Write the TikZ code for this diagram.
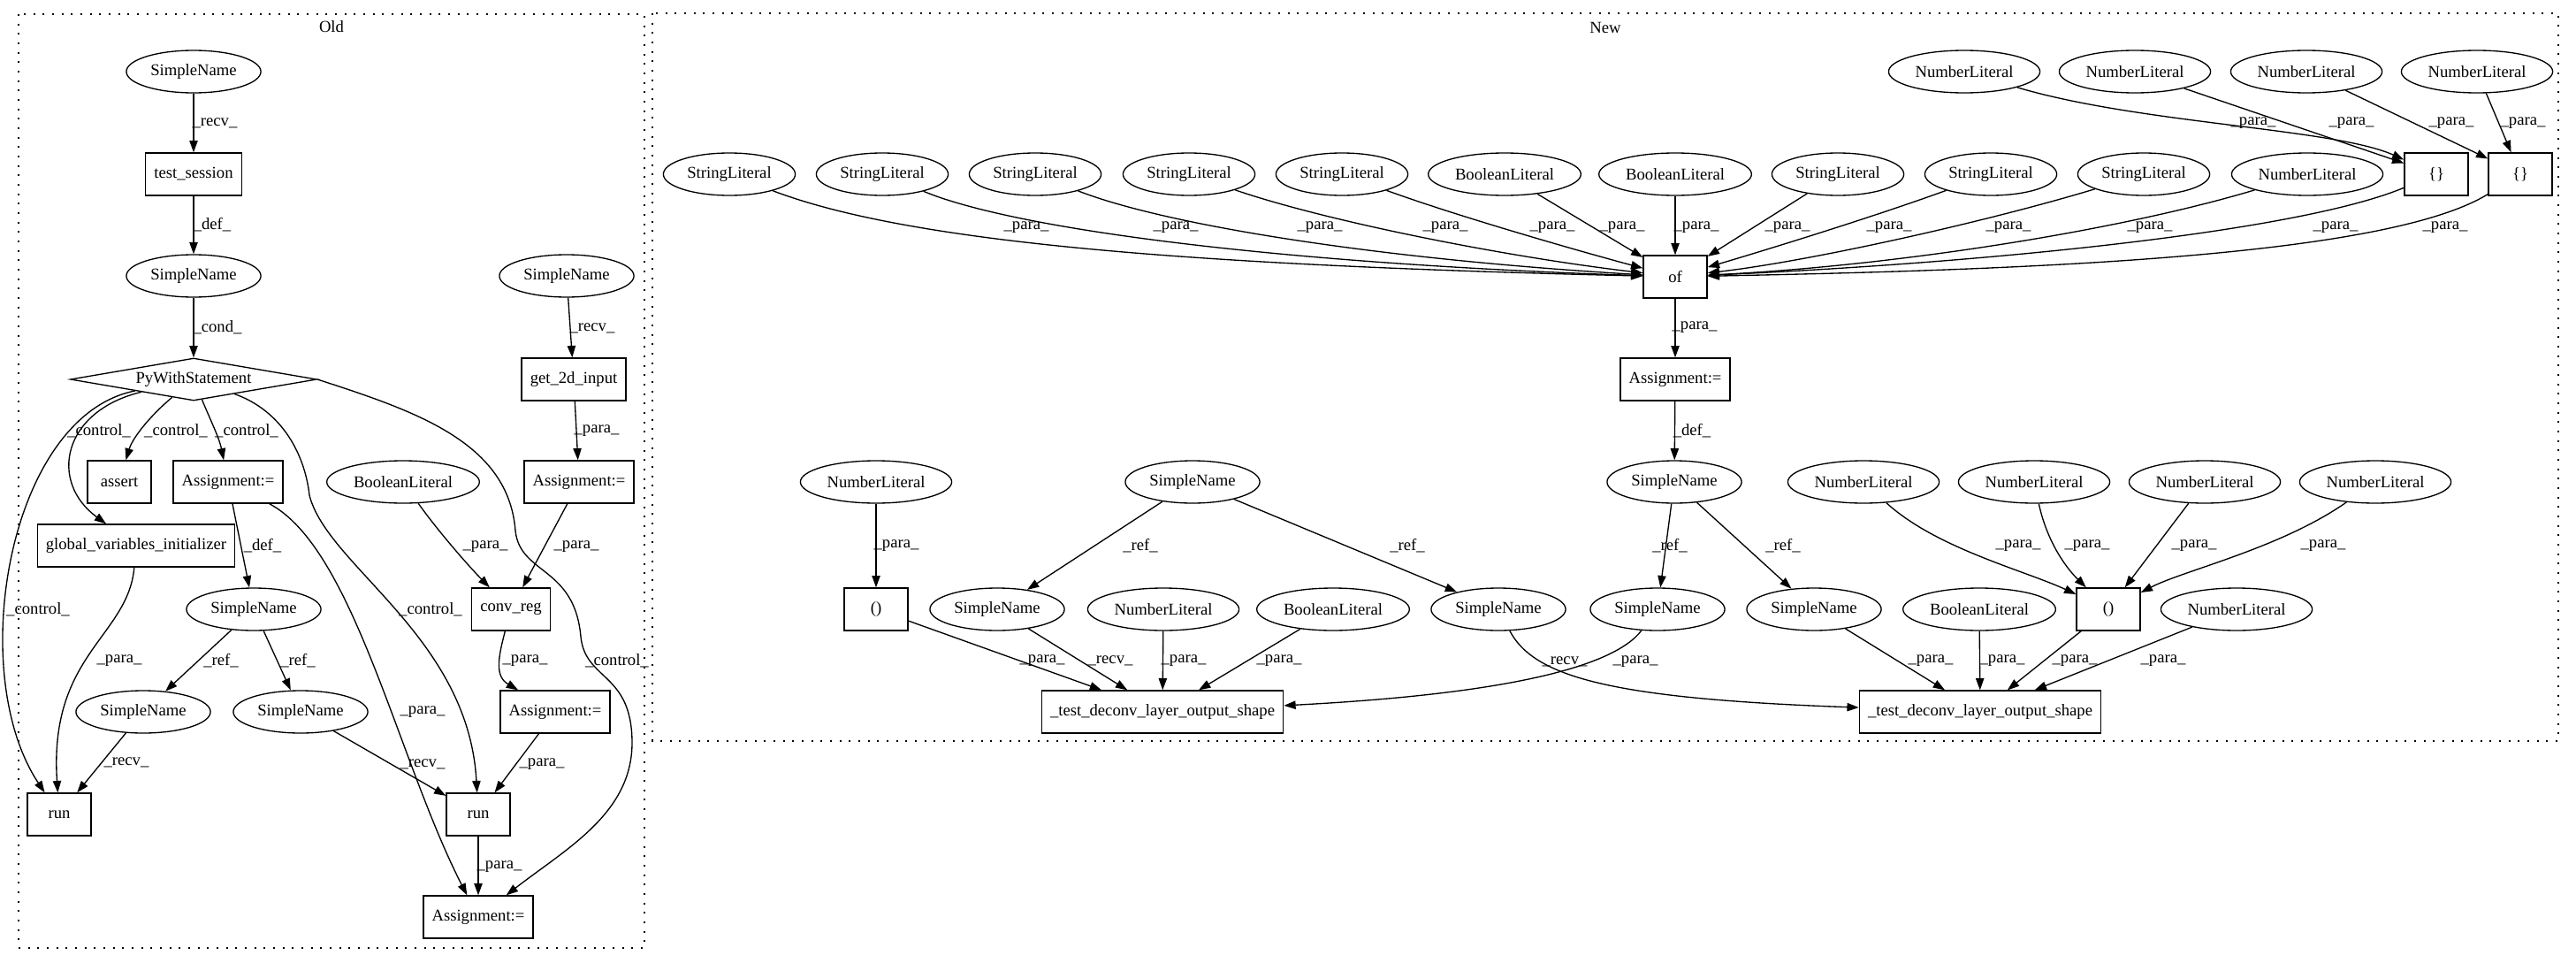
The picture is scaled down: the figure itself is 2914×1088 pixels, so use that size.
\documentclass[tikz,border=0pt]{standalone}
\usepackage{fontspec}
\setmainfont{Liberation Serif}
\usetikzlibrary{arrows.meta,shapes.geometric}

\begin{document}
\begin{tikzpicture}[
  x=0.75pt, y=-0.75pt,
  font=\fontsize{14}{16}\selectfont, >={Triangle[length=10pt,width=7pt]},
  leaf/.style={draw,ellipse,line width=1pt,inner xsep=3.8pt,inner ysep=0pt,minimum height=36pt},
  op/.style={draw,rectangle,line width=1pt,inner xsep=7.2pt,minimum width=54pt,minimum height=36pt},
  cond/.style={draw,diamond,line width=1pt,inner sep=0pt,aspect=5.8,minimum width=209pt,minimum height=36pt},
  arr/.style={->,line width=1pt},
  lbl/.style={inner sep=0pt},
  grp/.style={line width=1pt,dash pattern=on 1.5pt off 6.5pt}
]
\useasboundingbox (0,0) rectangle (2914,1088);

% the two clusters
\draw[grp] (21,16) rectangle (729,1072);
\node (old) at (375,30) {Old};
\draw[grp] (738,15) rectangle (2894,838);
\node (new) at (1816,31) {New};

% Old
\node[leaf] (osn1) at (219,81) {SimpleName};
\node[op] (otest) at (219,197) {test\_session};
\node[leaf] (osn2) at (219,312) {SimpleName};
\node[cond] (owith) at (219,429) {PyWithStatement};
\node[leaf] (osn3) at (641,312) {SimpleName};
\node[op] (oget) at (649,429) {get\_2d\_input};
\node[op] (oassert) at (135,545) {assert};
\node[op] (oasg1) at (258,545) {Assignment:=};
\node[leaf] (obool) at (456,545) {BooleanLiteral};
\node[op] (oasg2) at (655,545) {Assignment:=};
\node[op] (oglob) at (154,617) {global\_variables\_initializer};
\node[leaf] (osn4) at (287,689) {SimpleName};
\node[op] (oconv) at (578,689) {conv\_reg};
\node[leaf] (osn5) at (162,805) {SimpleName};
\node[leaf] (osn6) at (340,805) {SimpleName};
\node[op] (oasg3) at (628,805) {Assignment:=};
\node[op] (orun1) at (67,921) {run};
\node[op] (orun2) at (541,921) {run};
\node[op] (oasg4) at (541,1037) {Assignment:=};

\draw[arr] (osn1) -- (otest) node[lbl] at (243,139) {\_recv\_};
\draw[arr] (otest) -- (osn2) node[lbl] at (240,254) {\_def\_};
\draw[arr] (osn2) -- (owith) node[lbl] at (246,370) {\_cond\_};
\draw[arr] (osn3) -- (oget) node[lbl] at (670,371) {\_recv\_};
\draw[arr] (oget) -- (oasg2) node[lbl] at (675,487) {\_para\_};
\draw[arr] (owith) .. controls (10,470) and (-40,760) .. (orun1) node[lbl] at (43,689) {\_control\_};
\draw[arr] (owith) .. controls (70,465) and (55,545) .. (oglob) node[lbl] at (112,487) {\_control\_};
\draw[arr] (owith) .. controls (170,470) and (150,495) .. (oassert) node[lbl] at (199,487) {\_control\_};
\draw[arr] (owith) .. controls (238,475) and (248,495) .. (oasg1) node[lbl] at (279,487) {\_control\_};
\draw[arr] (owith) .. controls (320,465) and (345,515) .. (350,560)
  .. controls (370,640) and (530,720) .. (orun2) node[lbl] at (487,689) {\_control\_};
\draw[arr] (owith.east) .. controls (470,465) and (575,500) .. (583,600)
  .. controls (588,650) and (650,640) .. (657,720)
  .. controls (662,770) and (715,760) .. (715,840)
  .. controls (715,920) and (640,960) .. (oasg4) node[lbl] at (698,747) {\_control\_};
\draw[arr] (oasg1) -- (osn4) node[lbl] at (297,617) {\_def\_};
\draw[arr] (oasg1) .. controls (400,620) and (450,860) .. (oasg4) node[lbl] at (478,805) {\_para\_};
\draw[arr] (oglob) .. controls (145,720) and (55,740) .. (orun1) node[lbl] at (135,747) {\_para\_};
\draw[arr] (osn4) -- (osn5) node[lbl] at (250,747) {\_ref\_};
\draw[arr] (osn4) -- (osn6) node[lbl] at (337,747) {\_ref\_};
\draw[arr] (osn5) -- (orun1) node[lbl] at (143,862) {\_recv\_};
\draw[arr] (osn6) -- (orun2) node[lbl] at (478,864) {\_recv\_};
\draw[arr] (obool) .. controls (495,600) and (530,640) .. (oconv) node[lbl] at (549,618) {\_para\_};
\draw[arr] (oasg2) -- (oconv) node[lbl] at (652,618) {\_para\_};
\draw[arr] (oconv) .. controls (563,745) and (560,765) .. (oasg3) node[lbl] at (594,747) {\_para\_};
\draw[arr] (oasg3) -- (orun2) node[lbl] at (613,864) {\_para\_};
\draw[arr] (orun2) -- (oasg4) node[lbl] at (565,980) {\_para\_};

% New
\node[leaf] (nsl1) at (825,197) {StringLiteral};
\node[leaf] (nsl2) at (998,197) {StringLiteral};
\node[leaf] (nsl3) at (1171,197) {StringLiteral};
\node[leaf] (nsl4) at (1345,197) {StringLiteral};
\node[leaf] (nsl5) at (1518,197) {StringLiteral};
\node[leaf] (nbool1) at (1702,197) {BooleanLiteral};
\node[leaf] (nbool2) at (1895,197) {BooleanLiteral};
\node[leaf] (nsl6) at (2079,197) {StringLiteral};
\node[leaf] (nsl7) at (2252,197) {StringLiteral};
\node[leaf] (nsl8) at (2425,197) {StringLiteral};
\node[leaf] (nnum1) at (2610,197) {NumberLiteral};
\node[op] (nset1) at (2756,197) {\{\}};
\node[op] (nset2) at (2851,197) {\{\}};
\node[leaf] (nnum2) at (2222,81) {NumberLiteral};
\node[leaf] (nnum3) at (2415,81) {NumberLiteral};
\node[leaf] (nnum4) at (2609,81) {NumberLiteral};
\node[leaf] (nnum5) at (2802,81) {NumberLiteral};
\node[op] (nof) at (1895,313) {of};
\node[op] (nasg) at (1895,429) {Assignment:=};
\node[leaf] (nsn1) at (1894,545) {SimpleName};
\node[leaf] (nnum6) at (991,545) {NumberLiteral};
\node[leaf] (nsn2) at (1349,545) {SimpleName};
\node[leaf] (nnum7) at (2108,545) {NumberLiteral};
\node[leaf] (nnum8) at (2301,545) {NumberLiteral};
\node[leaf] (nnum9) at (2494,545) {NumberLiteral};
\node[leaf] (nnum10) at (2687,545) {NumberLiteral};
\node[op] (ntup1) at (991,689) {()};
\node[leaf] (nsn3) at (1128,689) {SimpleName};
\node[leaf] (nnum11) at (1316,689) {NumberLiteral};
\node[leaf] (nbool3) at (1508,689) {BooleanLiteral};
\node[leaf] (nsn4) at (1695,689) {SimpleName};
\node[leaf] (nsn5) at (1875,689) {SimpleName};
\node[leaf] (nsn6) at (2052,689) {SimpleName};
\node[leaf] (nbool4) at (2239,689) {BooleanLiteral};
\node[op] (ntup2) at (2385,689) {()};
\node[leaf] (nnum12) at (2530,689) {NumberLiteral};
\node[op] (ntdl1) at (1315,805) {\_test\_deconv\_layer\_output\_shape};
\node[op] (ntdl2) at (2240,805) {\_test\_deconv\_layer\_output\_shape};

\draw[arr] (nsl1) .. controls (1030,275) and (1350,300) .. (nof) node[lbl] at (1161,257) {\_para\_};
\draw[arr] (nsl2) .. controls (1150,260) and (1450,298) .. (nof) node[lbl] at (1330,257) {\_para\_};
\draw[arr] (nsl3) .. controls (1320,255) and (1560,293) .. (nof) node[lbl] at (1493,257) {\_para\_};
\draw[arr] (nsl4) .. controls (1500,250) and (1700,290) .. (nof) node[lbl] at (1635,257) {\_para\_};
\draw[arr] (nsl5) .. controls (1650,245) and (1790,285) .. (nof) node[lbl] at (1756,257) {\_para\_};
\draw[arr] (nbool1) -- (nof) node[lbl] at (1835,257) {\_para\_};
\draw[arr] (nbool2) -- (nof) node[lbl] at (1919,257) {\_para\_};
\draw[arr] (nsl6) -- (nof) node[lbl] at (2022,257) {\_para\_};
\draw[arr] (nsl7) .. controls (2120,245) and (2000,282) .. (nof) node[lbl] at (2137,257) {\_para\_};
\draw[arr] (nsl8) .. controls (2250,250) and (2050,295) .. (nof) node[lbl] at (2272,257) {\_para\_};
\draw[arr] (nnum1) .. controls (2400,260) and (2150,300) .. (nof) node[lbl] at (2432,257) {\_para\_};
\draw[arr] (nset1) .. controls (2600,262) and (2250,297) .. (nof) node[lbl] at (2642,257) {\_para\_};
\draw[arr] (nset2) .. controls (2700,290) and (2300,305) .. (nof) node[lbl] at (2766,257) {\_para\_};
\draw[arr] (nnum2) .. controls (2420,140) and (2640,145) .. (nset1) node[lbl] at (2549,139) {\_para\_};
\draw[arr] (nnum3) -- (nset1) node[lbl] at (2660,139) {\_para\_};
\draw[arr] (nnum4) -- (nset2) node[lbl] at (2773,139) {\_para\_};
\draw[arr] (nnum5) -- (nset2) node[lbl] at (2854,139) {\_para\_};
\draw[arr] (nof) -- (nasg) node[lbl] at (1917,370) {\_para\_};
\draw[arr] (nasg) -- (nsn1) node[lbl] at (1914,487) {\_def\_};
\draw[arr] (nsn1) -- (nsn5) node[lbl] at (1889,617) {\_ref\_};
\draw[arr] (nsn1) -- (nsn6) node[lbl] at (2017,617) {\_ref\_};
\draw[arr] (nnum7) .. controls (2190,620) and (2290,645) .. (ntup2) node[lbl] at (2283,617) {\_para\_};
\draw[arr] (nnum8) .. controls (2315,610) and (2335,640) .. (ntup2) node[lbl] at (2361,617) {\_para\_};
\draw[arr] (nnum9) -- (ntup2) node[lbl] at (2482,617) {\_para\_};
\draw[arr] (nnum10) .. controls (2580,620) and (2470,645) .. (ntup2) node[lbl] at (2628,617) {\_para\_};
\draw[arr] (nnum6) -- (ntup1) node[lbl] at (1014,617) {\_para\_};
\draw[arr] (nsn2) -- (nsn3) node[lbl] at (1290,617) {\_ref\_};
\draw[arr] (nsn2) -- (nsn4) node[lbl] at (1592,617) {\_ref\_};
\draw[arr] (ntup1) -- (ntdl1) node[lbl] at (1179,747) {\_para\_};
\draw[arr] (nsn3) -- (ntdl1) node[lbl] at (1256,747) {\_recv\_};
\draw[arr] (nnum11) -- (ntdl1) node[lbl] at (1339,747) {\_para\_};
\draw[arr] (nbool3) -- (ntdl1) node[lbl] at (1447,747) {\_para\_};
\draw[arr] (nsn4) .. controls (1735,765) and (1820,790) .. (ntdl2) node[lbl] at (1770,748) {\_recv\_};
\draw[arr] (nsn5) .. controls (1825,755) and (1700,785) .. (ntdl1) node[lbl] at (1850,748) {\_para\_};
\draw[arr] (nsn6) -- (ntdl2) node[lbl] at (2184,747) {\_para\_};
\draw[arr] (nbool4) -- (ntdl2) node[lbl] at (2265,747) {\_para\_};
\draw[arr] (ntup2) -- (ntdl2) node[lbl] at (2347,747) {\_para\_};
\draw[arr] (nnum12) -- (ntdl2) node[lbl] at (2447,747) {\_para\_};
\end{tikzpicture}
\end{document}
